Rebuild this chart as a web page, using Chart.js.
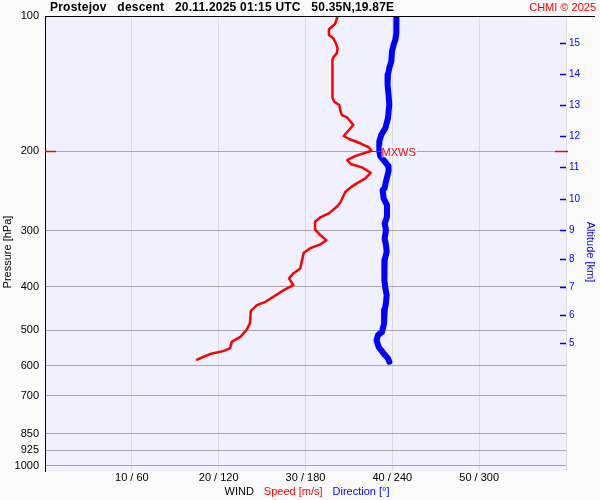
<!DOCTYPE html>
<html><head><meta charset="utf-8">
<script src="https://cdn.jsdelivr.net/npm/chart.js@4/dist/chart.umd.min.js"></script>
<style>html,body{margin:0;padding:0;background:#fafafa}canvas{display:block}</style>
</head><body>
<canvas id="c" width="600" height="500"></canvas>
<script>
// ---- data ----
const pressureLevels = [100, 200, 300, 400, 500, 600, 700, 850, 925, 1000];
const speedTickValues = [0, 10, 20, 30, 40, 50, 60];
const speedTickLabels = ['', '10 / 60', '20 / 120', '30 / 180', '40 / 240', '50 / 300', ''];
const altitudeKm = [5, 6, 7, 8, 9, 10, 11, 12, 13, 14, 15];
const altitudePressure = [533.2, 463.4, 400.2, 346.7, 299.3, 255.4, 217.1, 185.2, 157.8, 134.6, 114.7];

const speedPressure = [100, 104.2, 107.0, 110.2, 112.1, 115.0, 118.0, 121.1, 123.6, 125.3, 138.8, 144.8, 151.7, 155.1, 157.8, 161.9, 166.1, 168.1, 174.8, 179.3, 184.9, 188.0, 191.9, 196.0, 199.4, 201.4, 204.9, 209.1, 213.4, 217.1, 223.2, 229.7, 235.6, 240.5, 246.0, 260.3, 265.7, 274.8, 280.5, 286.9, 298.3, 307.1, 315.1, 322.1, 328.8, 336.3, 349.1, 364.3, 373.7, 383.3, 396.7, 407.1, 421.3, 432.2, 439.6, 452.6, 482.7, 499.6, 517.1, 530.5, 548.8, 556.4, 564.9, 574.5, 582.6];
const speedValues = [33.7, 33.4, 32.7, 32.7, 33.2, 33.5, 33.7, 33.6, 33.2, 33.1, 33.1, 33.1, 33.1, 33.3, 33.9, 34.0, 34.2, 34.8, 35.5, 35.0, 34.4, 35.1, 36.3, 37.3, 37.6, 36.9, 35.7, 34.8, 35.2, 36.5, 37.5, 36.9, 35.9, 35.2, 34.6, 34.0, 33.6, 32.7, 31.7, 31.1, 31.1, 31.7, 32.4, 31.7, 30.5, 29.8, 29.6, 29.4, 28.6, 28.1, 28.6, 27.5, 26.3, 25.4, 24.4, 23.7, 23.6, 23.2, 22.5, 21.5, 21.3, 20.5, 19.0, 18.1, 17.4];

const directionPressure = [99, 102.8, 109.1, 112.9, 115.8, 119.8, 126.1, 130.5, 135.1, 142.2, 149.6, 157.6, 168.6, 177.5, 183.7, 190.0, 200.0, 205.2, 210.5, 216.0, 221.6, 233.3, 241.4, 243.9, 254.5, 263.3, 279.7, 289.3, 299.3, 312.3, 323.3, 334.5, 349.1, 367.4, 386.7, 403.5, 417.6, 435.6, 450.9, 482.7, 504.0, 512.7, 525.9, 544.3, 563.0, 577.5, 587.6];
const directionValues = [242.8, 242.8, 242.8, 242.1, 240.9, 239.8, 239.3, 237.9, 237.0, 236.7, 237.4, 237.9, 237.0, 235.2, 232.4, 231.0, 231.0, 231.7, 234.7, 237.4, 237.4, 235.6, 234.7, 233.3, 234.0, 236.3, 236.3, 234.7, 235.6, 234.7, 235.6, 236.1, 234.7, 234.5, 234.5, 235.2, 236.1, 235.6, 234.7, 234.3, 232.9, 230.1, 229.1, 230.5, 234.0, 237.0, 237.9];

const mxwsPressure = 200;
const mxwsSpeed = 37.6;

const titleText = 'Prostejov   descent   20.11.2025 01:15 UTC   50.35N,19.87E';
const creditText = 'CHMI \u00a9 2025';

// ---- chart ----
const FAM = '"Liberation Sans", Arial, sans-serif';
const RED = '#ff0000', BLUE = '#0000ff';

const deco = {
  id: 'deco',
  beforeDraw(chart) {
    const {ctx, chartArea: a} = chart;
    ctx.save();
    ctx.fillStyle = '#fafafa';
    ctx.fillRect(0, 0, chart.width, chart.height);
    ctx.fillStyle = '#f0f0ff';
    ctx.fillRect(a.left, a.top, a.right - a.left, a.bottom - a.top);
    ctx.restore();
  },
  afterDatasetsDraw(chart) {
    const {ctx, chartArea: a, scales} = chart;
    const px = scales.x.getPixelForValue(mxwsSpeed);
    const py = Math.round(scales.y.getPixelForValue(mxwsPressure)) + 0.5;
    ctx.save();
    ctx.font = '11px ' + FAM;
    const tw = ctx.measureText('MXWS').width;
    const lx = px + 10;
    ctx.fillStyle = 'rgba(255,255,255,0.6)';
    ctx.fillRect(lx, py - 6, tw + 1, 12);
    ctx.strokeStyle = RED; ctx.lineWidth = 1;
    ctx.beginPath(); ctx.moveTo(px - 4, py); ctx.lineTo(lx, py); ctx.stroke();
    ctx.fillStyle = RED; ctx.textBaseline = 'middle'; ctx.textAlign = 'left';
    ctx.fillText('MXWS', lx, py + 1);
    // red marks on both axes
    ctx.lineWidth = 1.5;
    ctx.beginPath(); ctx.moveTo(a.left, py); ctx.lineTo(a.left + 11, py); ctx.stroke();
    ctx.beginPath(); ctx.moveTo(a.right - 11, py); ctx.lineTo(a.right + 2, py); ctx.stroke();
    // blue altitude tick marks inside plot
    ctx.strokeStyle = BLUE; ctx.lineWidth = 1.5;
    altitudePressure.forEach(p => {
      const y = Math.round(scales.y2.getPixelForValue(p)) + 0.5;
      ctx.beginPath(); ctx.moveTo(a.right - 6, y); ctx.lineTo(a.right, y); ctx.stroke();
    });
    // top border
    ctx.strokeStyle = '#000'; ctx.lineWidth = 1;
    const ty = Math.round(a.top) + 0.5;
    ctx.beginPath(); ctx.moveTo(a.left, ty); ctx.lineTo(595, ty); ctx.stroke();
    ctx.restore();
  },
  afterDraw(chart) {
    const {ctx} = chart;
    ctx.save();
    ctx.textBaseline = 'middle';
    ctx.fillStyle = '#000'; ctx.textAlign = 'left';
    ctx.font = 'bold 12px ' + FAM;
    if ('letterSpacing' in ctx) ctx.letterSpacing = '0.22px';
    ctx.fillText(titleText, 50, 8);
    if ('letterSpacing' in ctx) ctx.letterSpacing = '0px';
    ctx.fillStyle = RED; ctx.textAlign = 'right';
    ctx.font = '11px ' + FAM;
    ctx.fillText(creditText, 596, 8);
    // bottom axis title
    const parts = [['WIND', '#000'], ['Speed [m/s]', RED], ['Direction [\u00b0]', BLUE]];
    const gap = 10;
    const widths = parts.map(p => ctx.measureText(p[0]).width);
    const total = widths.reduce((s, w) => s + w, 0) + gap * (parts.length - 1);
    let x = 307 - total / 2;
    ctx.textAlign = 'left';
    parts.forEach((p, i) => { ctx.fillStyle = p[1]; ctx.fillText(p[0], x, 492); x += widths[i] + gap; });
    // vertical axis titles
    ctx.save();
    ctx.translate(8, 252); ctx.rotate(-Math.PI / 2);
    ctx.fillStyle = '#000'; ctx.textAlign = 'center';
    ctx.fillText('Pressure [hPa]', 0, 0);
    ctx.restore();
    ctx.save();
    ctx.translate(590, 252); ctx.rotate(Math.PI / 2);
    ctx.fillStyle = BLUE; ctx.textAlign = 'center';
    ctx.fillText('Altitude [km]', 0, 0);
    ctx.restore();
    ctx.restore();
  }
};

new Chart(document.getElementById('c'), {
  type: 'scatter',
  data: {
    datasets: [
      {
        label: 'Direction',
        data: directionPressure.map((p, i) => ({x: directionValues[i], y: p})),
        xAxisID: 'x2', yAxisID: 'y',
        showLine: true, borderColor: BLUE, borderWidth: 6, pointRadius: 0,
        tension: 0, borderJoinStyle: 'round', borderCapStyle: 'round', fill: false
      },
      {
        label: 'Speed',
        data: speedPressure.map((p, i) => ({x: speedValues[i], y: p})),
        xAxisID: 'x', yAxisID: 'y',
        showLine: true, borderColor: RED, borderWidth: 2.5, pointRadius: 0,
        tension: 0, borderJoinStyle: 'round', fill: false
      }
    ]
  },
  options: {
    responsive: false, animation: false, devicePixelRatio: 1, events: [],
    layout: {padding: {top: 16, left: 0, right: 0, bottom: 0}},
    plugins: {legend: {display: false}, tooltip: {enabled: false}},
    scales: {
      x: {
        type: 'linear', position: 'bottom', min: 0, max: 60,
        afterBuildTicks(s) { s.ticks = speedTickValues.map(v => ({value: v})); },
        afterFit(s) { s.height = 29; },
        ticks: {
          autoSkip: false, maxRotation: 0, padding: 0, color: '#000',
          font: {family: FAM, size: 11},
          callback: v => speedTickLabels[speedTickValues.indexOf(v)]
        },
        grid: {drawTicks: false, color: c => (c.tick && c.tick.value === 0) ? 'rgba(0,0,0,0)' : '#dcdcdc'},
        border: {display: false}
      },
      x2: {type: 'linear', display: false, min: 0, max: 360},
      y: {
        type: 'logarithmic', position: 'left', reverse: true, min: 100, max: 1028,
        afterBuildTicks(s) { s.ticks = pressureLevels.map(v => ({value: v})); },
        afterFit(s) { s.width = 45; },
        ticks: {
          autoSkip: false, padding: 6, color: '#000',
          font: {family: FAM, size: 11},
          callback: v => String(v)
        },
        grid: {drawTicks: false, lineWidth: 1, color: c => (c.tick && c.tick.value === 100) ? 'rgba(0,0,0,0)' : '#a8a8a8'},
        border: {display: true, color: '#000', width: 1}
      },
      y2: {
        type: 'logarithmic', position: 'right', reverse: true, min: 100, max: 1028,
        afterBuildTicks(s) { s.ticks = altitudePressure.map(v => ({value: v})); },
        afterFit(s) { s.width = 34; },
        ticks: {
          autoSkip: false, padding: 3, color: BLUE,
          font: {family: FAM, size: 10},
          callback: v => String(altitudeKm[altitudePressure.indexOf(v)])
        },
        grid: {drawOnChartArea: false, drawTicks: false},
        border: {display: false}
      }
    }
  },
  plugins: [deco]
});
</script>
</body></html>
